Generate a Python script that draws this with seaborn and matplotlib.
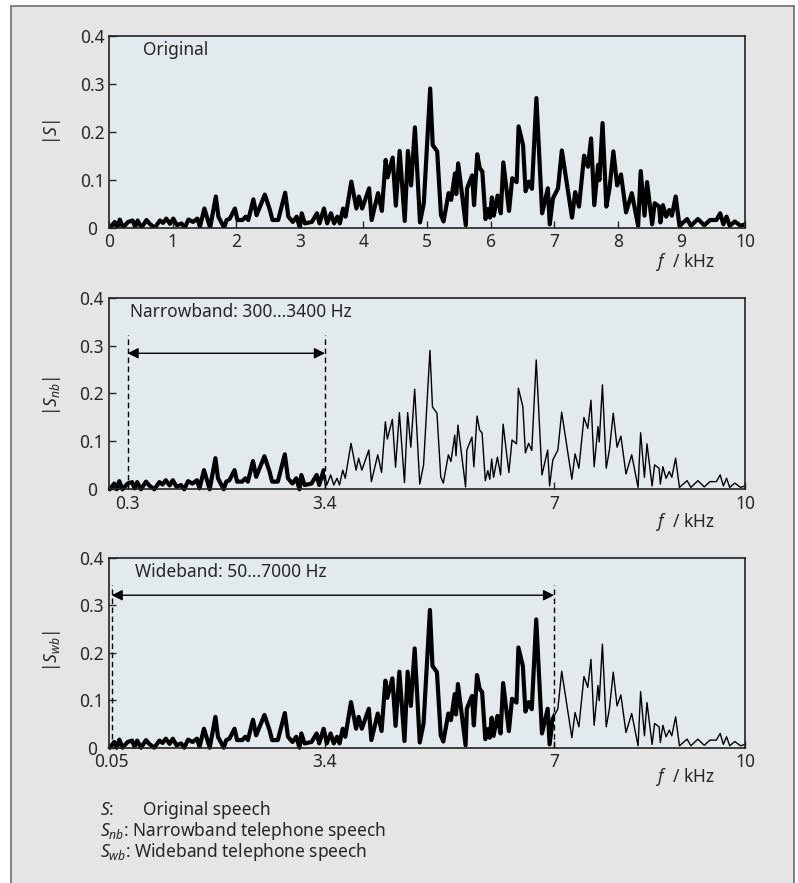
import numpy as np
import pandas as pd
import matplotlib
matplotlib.use("Agg")
import matplotlib.pyplot as plt
from matplotlib.patches import Rectangle
from matplotlib.ticker import FixedLocator, FixedFormatter
import seaborn as sns

# spectrum (same magnitude curve in all three panels)
freq_khz = [0.02, 0.09, 0.13, 0.17, 0.22, 0.30, 0.37, 0.41, 0.45, 0.51,
            0.59, 0.64, 0.72, 0.80, 0.85, 0.90, 0.96, 1.01, 1.07, 1.14,
            1.19, 1.25, 1.32, 1.39, 1.43, 1.50, 1.59, 1.68, 1.72, 1.81,
            1.85, 1.90, 1.98, 2.02, 2.10, 2.15, 2.19, 2.27, 2.32, 2.45,
            2.53, 2.57, 2.66, 2.77, 2.82, 2.89, 2.95, 3.00, 3.03, 3.08,
            3.19, 3.27, 3.31, 3.38, 3.43, 3.49, 3.54, 3.59, 3.63, 3.68,
            3.72, 3.81, 3.89, 3.93, 3.98, 4.09, 4.13, 4.23, 4.29, 4.35,
            4.38, 4.46, 4.51, 4.57, 4.65, 4.70, 4.75, 4.81, 4.89, 4.95,
            5.05, 5.09, 5.16, 5.22, 5.26, 5.34, 5.38, 5.44, 5.46, 5.49,
            5.61, 5.63, 5.71, 5.74, 5.79, 5.83, 5.87, 5.92, 5.96, 5.99,
            6.02, 6.05, 6.11, 6.16, 6.20, 6.29, 6.34, 6.41, 6.44, 6.51,
            6.55, 6.60, 6.65, 6.72, 6.81, 6.90, 6.93, 6.98, 7.06, 7.12,
            7.28, 7.33, 7.39, 7.47, 7.53, 7.58, 7.63, 7.69, 7.71, 7.76,
            7.82, 7.87, 7.93, 7.99, 8.05, 8.13, 8.22, 8.32, 8.36, 8.42,
            8.46, 8.54, 8.58, 8.65, 8.67, 8.71, 8.76, 8.81, 8.85, 8.91,
            8.97, 9.09, 9.15, 9.26, 9.36, 9.45, 9.55, 9.61, 9.66, 9.71,
            9.76, 9.84, 9.93, 10.0]
magnitude = [0.000, 0.012, 0.000, 0.017, 0.000, 0.012, 0.015, 0.002, 0.015, 0.000,
             0.016, 0.008, 0.000, 0.015, 0.010, 0.019, 0.008, 0.019, 0.005, 0.009,
             0.000, 0.017, 0.012, 0.019, 0.002, 0.040, 0.000, 0.065, 0.023, 0.000,
             0.016, 0.019, 0.040, 0.016, 0.016, 0.023, 0.016, 0.059, 0.026, 0.069,
             0.037, 0.016, 0.016, 0.073, 0.023, 0.012, 0.023, 0.000, 0.030, 0.009,
             0.012, 0.030, 0.009, 0.040, 0.009, 0.030, 0.009, 0.023, 0.009, 0.040,
             0.023, 0.096, 0.040, 0.065, 0.040, 0.082, 0.016, 0.072, 0.035, 0.141,
             0.105, 0.146, 0.046, 0.160, 0.014, 0.160, 0.088, 0.209, 0.011, 0.051,
             0.290, 0.172, 0.159, 0.026, 0.013, 0.072, 0.058, 0.113, 0.070, 0.134,
             0.005, 0.082, 0.109, 0.047, 0.153, 0.124, 0.117, 0.018, 0.039, 0.021,
             0.063, 0.025, 0.067, 0.030, 0.136, 0.035, 0.103, 0.095, 0.211, 0.172,
             0.076, 0.096, 0.081, 0.270, 0.030, 0.082, 0.007, 0.061, 0.082, 0.161,
             0.021, 0.074, 0.044, 0.150, 0.127, 0.186, 0.047, 0.131, 0.099, 0.218,
             0.044, 0.082, 0.159, 0.088, 0.111, 0.032, 0.072, 0.004, 0.118, 0.025,
             0.095, 0.007, 0.051, 0.044, 0.011, 0.047, 0.023, 0.037, 0.025, 0.065,
             0.004, 0.018, 0.004, 0.018, 0.005, 0.016, 0.016, 0.030, 0.007, 0.023,
             0.004, 0.013, 0.004, 0.007]

panel_labels = [r"|$S$|", r"|$S_{nb}$|", r"|$S_{wb}$|"]
panel_titles = ["Original", "Narrowband: 300...3400 Hz", "Wideband: 50...7000 Hz"]
band_edges = [None, (0.3, 3.4), (0.05, 7.0)]
xtick_sets = [[0, 1, 2, 3, 4, 5, 6, 7, 8, 9, 10], [0.3, 3.4, 7, 10], [0.05, 3.4, 7, 10]]
xtick_text = [[str(t) for t in range(11)], ["0.3", "3.4", "7", "10"], ["0.05", "3.4", "7", "10"]]
yticks = [0, 0.1, 0.2, 0.3, 0.4]
ytick_text = ["0", "0.1", "0.2", "0.3", "0.4"]
key_lines = [r"$S$:", r"$S_{nb}$: Narrowband telephone speech", r"$S_{wb}$: Wideband telephone speech"]

df = pd.DataFrame({"f": freq_khz, "mag": magnitude})

sns.set_style("ticks")
plt.rcParams["font.family"] = ["Noto Sans", "DejaVu Sans"]
plt.rcParams["mathtext.fontset"] = "custom"
plt.rcParams["mathtext.rm"] = "Noto Sans"
plt.rcParams["mathtext.it"] = "Noto Sans:italic"
plt.rcParams["font.size"] = 12.5

W, H = 798, 883
fig = plt.figure(figsize=(W / 100, H / 100), dpi=100)
fig.patch.set_facecolor("white")
fig.patches.append(Rectangle((11 / W, -0.01), (794 - 11) / W, 1 - 6 / H + 0.01,
                             transform=fig.transFigure, facecolor="#e5e5e5",
                             edgecolor="#6e6e6e", lw=1.2, zorder=0))

# axes boxes in pixels: left, top, right, bottom
boxes = [(109, 35.7, 745, 227.7), (108.5, 297.7, 745, 489.3), (108.5, 557.7, 745, 747.7)]
ylab_y = [0.5, 0.49, 0.51]
xlab_y = [-0.18, -0.17, -0.155]
arrow_y = [None, 0.284, 0.321]
dash_top = [None, 0.323, 0.343]
title_x = [0.53, 0.33, 0.41]

for i, (l, t, r, b) in enumerate(boxes):
    ax = fig.add_axes([l / W, (H - b) / H, (r - l) / W, (b - t) / H])
    ax.set_facecolor("#e2eaed")
    ax.set_zorder(2)

    if band_edges[i] is None:
        sns.lineplot(data=df, x="f", y="mag", ax=ax, color="black", lw=3.0,
                     estimator=None, sort=False)
    else:
        lo, hi = band_edges[i]
        sns.lineplot(data=df, x="f", y="mag", ax=ax, color="black", lw=1.0,
                     estimator=None, sort=False)
        sns.lineplot(data=df, x="f", y="mag", ax=ax, color="black", lw=3.0,
                     estimator=None, sort=False)
        # thick line only inside the band
        clip = Rectangle((-1, -1), hi + 1, 3, transform=ax.transData)
        ax.lines[-1].set_clip_path(clip)
        ax.vlines([lo, hi], 0, dash_top[i], colors="black", lw=1.0,
                  linestyles=(0, (4, 2.5)))
        ax.annotate("", xy=(hi, arrow_y[i]), xytext=(lo, arrow_y[i]),
                    arrowprops=dict(arrowstyle="<|-|>", color="black", lw=1.0,
                                    mutation_scale=16, shrinkA=0, shrinkB=0))

    ax.set_xlim(0, 10)
    ax.set_ylim(0, 0.4)
    ax.xaxis.set_major_locator(FixedLocator(xtick_sets[i]))
    ax.xaxis.set_major_formatter(FixedFormatter(xtick_text[i]))
    ax.yaxis.set_major_locator(FixedLocator(yticks))
    ax.yaxis.set_major_formatter(FixedFormatter(ytick_text))
    ax.tick_params(direction="in", length=5, width=1, labelsize=12.5)
    ax.tick_params(axis="x", pad=4)
    ax.tick_params(axis="y", pad=12)
    for lab in ax.get_yticklabels():
        lab.set_horizontalalignment("center")
    for s in ax.spines.values():
        s.set_linewidth(1.2)
        s.set_color("#222222")

    ax.set_xlabel("")
    ax.set_ylabel(panel_labels[i], fontsize=12.5)
    ax.yaxis.set_label_coords(-0.072, ylab_y[i])
    ax.text(0.906, xlab_y[i], r"$f$  / kHz", transform=ax.transAxes,
            ha="center", va="center", fontsize=12.5)
    ax.text(title_x[i], 0.37, panel_titles[i], ha="left", va="center", fontsize=12.5)

# key below the panels
key_y = [810, 831, 852]
for k in range(3):
    fig.text(100 / W, 1 - key_y[k] / H, key_lines[k], ha="left", va="center", fontsize=12.5)
fig.text(143 / W, 1 - key_y[0] / H, "Original speech", ha="left", va="center", fontsize=12.5)

fig.savefig("out.png", dpi=100)
